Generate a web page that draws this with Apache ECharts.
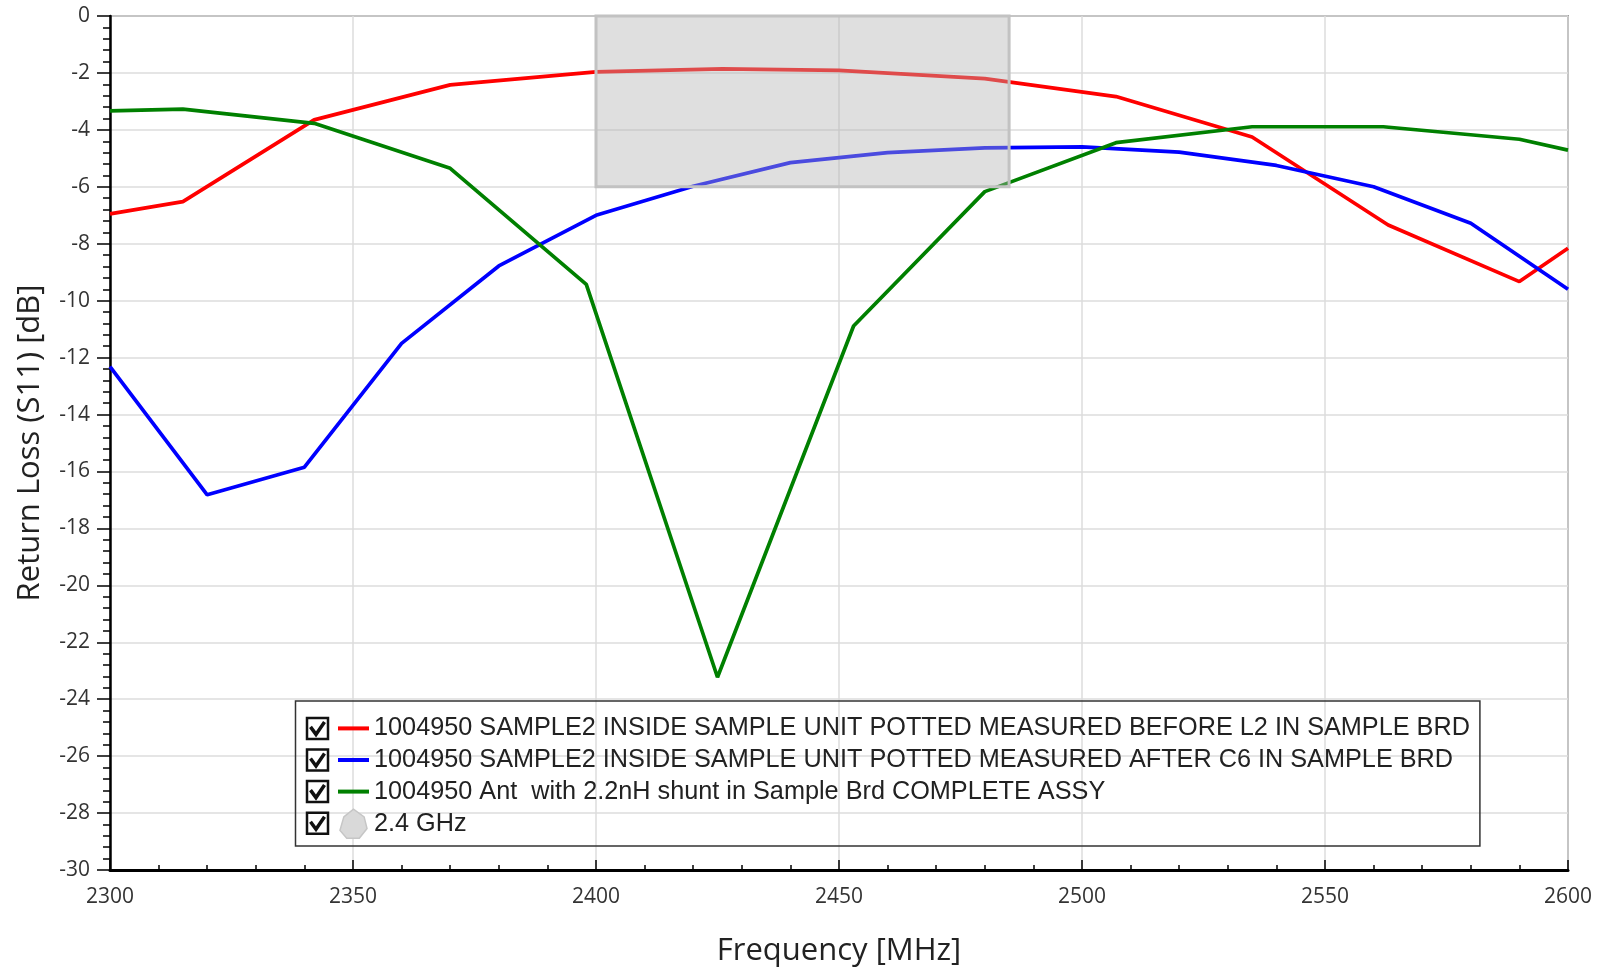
<!DOCTYPE html>
<html>
<head>
<meta charset="utf-8">
<script src="https://cdn.jsdelivr.net/npm/echarts@6/dist/echarts.min.js"></script>
<style>html,body{margin:0;padding:0;background:#fff;}#chart{width:1598px;height:970px;}</style>
</head>
<body>
<div id="chart"></div>
<script>
// ---- data ----
const seriesNames = [
  '1004950 SAMPLE2 INSIDE SAMPLE UNIT POTTED MEASURED BEFORE L2 IN SAMPLE BRD',
  '1004950 SAMPLE2 INSIDE SAMPLE UNIT POTTED MEASURED AFTER C6 IN SAMPLE BRD',
  '1004950 Ant  with 2.2nH shunt in Sample Brd COMPLETE ASSY',
  '2.4 GHz'
];
const redFreq = [2300, 2315, 2342, 2370, 2400, 2426, 2450, 2480, 2507, 2535, 2563, 2590, 2600];
const redS11 = [-6.95, -6.52, -3.65, -2.42, -1.96, -1.86, -1.91, -2.2, -2.83, -4.25, -7.34, -9.33, -8.16];
const blueFreq = [2300, 2320, 2340, 2360, 2380, 2400, 2420, 2440, 2460, 2480, 2500, 2520, 2540, 2560, 2580, 2600];
const blueS11 = [-12.32, -16.82, -15.85, -11.5, -8.78, -7.0, -5.98, -5.15, -4.8, -4.63, -4.6, -4.78, -5.25, -6.0, -7.28, -9.6];
const greenFreq = [2300, 2315, 2342, 2370, 2398, 2425, 2453, 2480, 2507, 2535, 2562, 2590, 2600];
const greenS11 = [-3.33, -3.27, -3.77, -5.35, -9.43, -23.23, -10.89, -6.17, -4.45, -3.89, -3.89, -4.33, -4.71];
const bandStart = 2400, bandEnd = 2485, bandTop = 0, bandBottom = -6;
const xTicks = {min: 2300, max: 2600, step: 50};
const yTicks = {min: -30, max: 0, step: 2};

const zip = (a, b) => a.map((v, i) => [v, b[i]]);
const chart = echarts.init(document.getElementById('chart'));
const tickFont = {fontFamily: 'Open Sans', fontSize: 21, color: '#333', formatter: v => String(v)};
const rowTop = 701, padTop = 12.6, rowH = 29.6, rowGap = 2;
const legendRows = [0, 1, 2, 3].map(i => rowTop + padTop + rowH / 2 + i * (rowH + rowGap));
const checkboxes = [];
legendRows.forEach(cy => {
  checkboxes.push({type: 'rect', shape: {x: 307, y: cy - 10.5, width: 21, height: 21},
    style: {fill: '#fff', stroke: '#111', lineWidth: 2.5}, z: 100});
  checkboxes.push({type: 'polyline', shape: {points: [[310.5, cy - 1.5], [316, cy + 6], [324.5, cy - 6.5]]},
    style: {fill: null, stroke: '#111', lineWidth: 3.5}, z: 100});
});

const lineSeries = (name, color, xs, ys) => ({
  name, type: 'line', data: zip(xs, ys), symbol: 'none', z: 3,
  lineStyle: {color, width: 3.7}, itemStyle: {color}, emphasis: {disabled: true}
});
const hidden = {color: 'rgba(0,0,0,0)', borderWidth: 0};

chart.setOption({
  animation: false,
  grid: {left: 110, right: 30, top: 16, bottom: 100, containLabel: false, outerBoundsMode: 'none',
    show: true, borderColor: '#555', borderWidth: 1.5},
  xAxis: {
    type: 'value', min: xTicks.min, max: xTicks.max, interval: xTicks.step,
    name: 'Frequency [MHz]', nameLocation: 'middle', nameGap: 65.5,
    nameTextStyle: {fontFamily: 'Open Sans', fontSize: 31, color: '#222'},
    axisLine: {show: true, onZero: false, lineStyle: {color: '#000', width: 3}},
    axisTick: {show: true, inside: true, length: 10, lineStyle: {color: '#000', width: 1.5}},
    minorTick: {show: true, splitNumber: 5, length: 5, lineStyle: {color: '#000', width: 1.5}},
    axisLabel: Object.assign({margin: 17}, tickFont),
    splitLine: {show: true, lineStyle: {color: '#dcdcdc', width: 1.5}}
  },
  yAxis: {
    type: 'value', min: yTicks.min, max: yTicks.max, interval: yTicks.step,
    name: 'Return Loss (S11) [dB]', nameLocation: 'middle', nameGap: 64, nameRotate: 90,
    nameTextStyle: {fontFamily: 'Open Sans', fontSize: 31, color: '#222'},
    axisLine: {show: true, onZero: false, lineStyle: {color: '#000', width: 2.5}},
    axisTick: {show: true, inside: false, length: 13, lineStyle: {color: '#000', width: 1.5}},
    minorTick: {show: true, splitNumber: 5, length: 7, lineStyle: {color: '#000', width: 1.5}},
    axisLabel: Object.assign({margin: 20}, tickFont),
    splitLine: {show: true, lineStyle: {color: '#dcdcdc', width: 1.5}}
  },
  legend: {
    orient: 'vertical', left: 295.5, top: rowTop,
    padding: [padTop, 10, 7, 40.5],
    borderColor: '#333', borderWidth: 1.5, backgroundColor: 'transparent',
    itemWidth: 31, itemHeight: 29, itemGap: rowGap,
    lineStyle: {width: 4},
    textStyle: {fontFamily: 'Liberation Sans', fontSize: 25.25, color: '#222', lineHeight: rowH},
    data: [
      {name: seriesNames[0], itemStyle: hidden}, {name: seriesNames[1], itemStyle: hidden},
      {name: seriesNames[2], itemStyle: hidden},
      {name: seriesNames[3], icon: 'path://M6,8 L16,0 L27,8 L30,20 L22,30 L9,30 L2,22 Z',
        itemStyle: {color: '#d9d9d9', borderColor: '#c6c6c6', borderWidth: 1.5}}
    ]
  },
  graphic: checkboxes,
  series: [
    lineSeries(seriesNames[0], '#ff0000', redFreq, redS11),
    lineSeries(seriesNames[1], '#0000ff', blueFreq, blueS11),
    lineSeries(seriesNames[2], '#008000', greenFreq, greenS11),
    {
      name: seriesNames[3], type: 'line', data: [], z: 10, symbol: 'none',
      itemStyle: {color: '#d9d9d9'},
      markArea: {
        silent: true, z: 10,
        itemStyle: {color: 'rgba(178,178,178,0.42)', borderColor: '#c2c2c2', borderWidth: 3},
        data: [[{coord: [bandStart, bandTop]}, {coord: [bandEnd, bandBottom]}]]
      }
    }
  ]
});
</script>
</body>
</html>
